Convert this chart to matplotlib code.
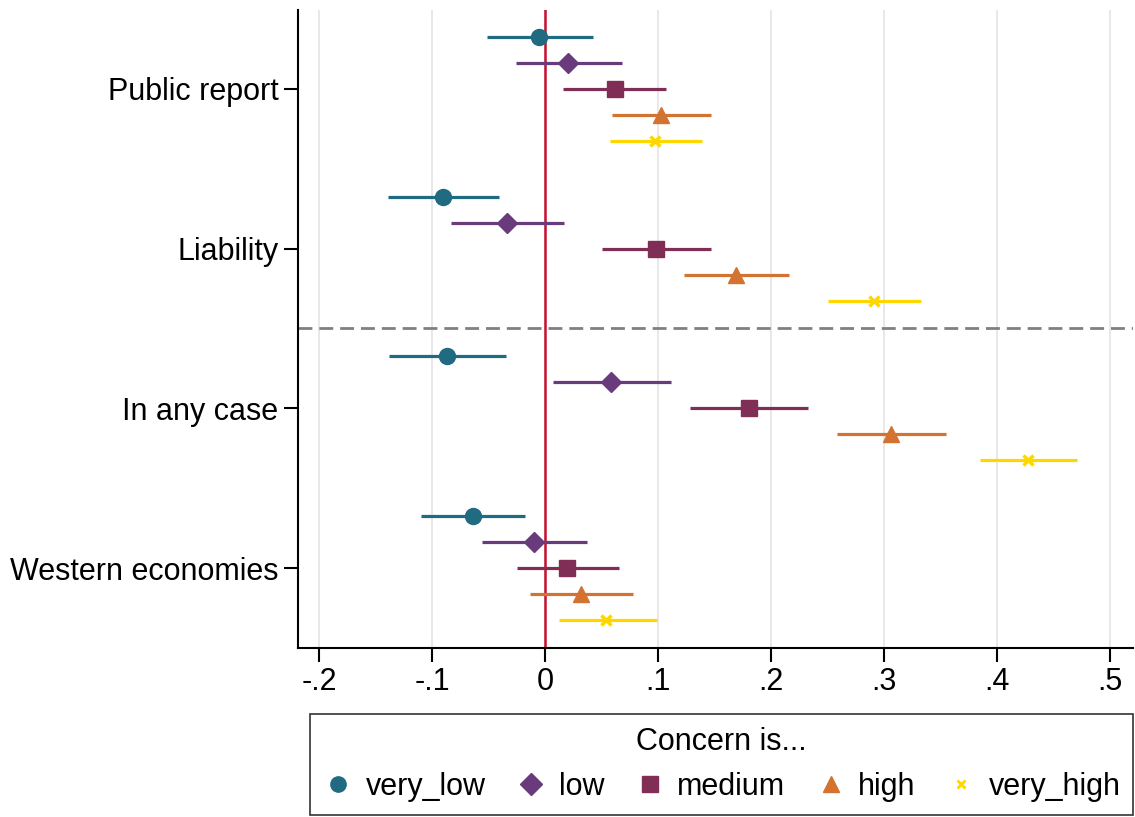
import numpy as np
import matplotlib
matplotlib.use("Agg")
import matplotlib.pyplot as plt
from matplotlib.lines import Line2D

plt.rcParams["font.family"] = ["Liberation Sans", "DejaVu Sans"]

# outcomes, top to bottom
groups = ["Public report", "Liability", "In any case", "Western economies"]
series = ["very_low", "low", "medium", "high", "very_high"]

# point estimates per series (one value per group)
est = {
    "very_low":  [-0.005, -0.090, -0.087, -0.064],
    "low":       [0.020, -0.034, 0.058, -0.010],
    "medium":    [0.062, 0.098, 0.180, 0.019],
    "high":      [0.103, 0.169, 0.306, 0.032],
    "very_high": [0.097, 0.291, 0.427, 0.054],
}
lo = {
    "very_low":  [-0.051, -0.139, -0.138, -0.110],
    "low":       [-0.026, -0.083, 0.007, -0.056],
    "medium":    [0.016, 0.050, 0.128, -0.025],
    "high":      [0.059, 0.123, 0.258, -0.013],
    "very_high": [0.057, 0.250, 0.385, 0.012],
}
hi = {
    "very_low":  [0.042, -0.041, -0.035, -0.018],
    "low":       [0.068, 0.017, 0.111, 0.037],
    "medium":    [0.107, 0.147, 0.233, 0.065],
    "high":      [0.147, 0.216, 0.355, 0.078],
    "very_high": [0.139, 0.333, 0.471, 0.099],
}

xticks = [-0.2, -0.1, 0, 0.1, 0.2, 0.3, 0.4, 0.5]
xticklabels = ["-.2", "-.1", "0", ".1", ".2", ".3", ".4", ".5"]

colors = ["#206b82", "#6a3b7c", "#812e57", "#d27332", "#ffd700"]
markers = ["o", "D", "s", "^", "x"]
msizes = [11.5, 10.5, 11, 12, 7]

fig = plt.figure(figsize=(11.35, 8.17), dpi=100)
ax = fig.add_axes([0.2626, 0.2069, 0.7354, 0.7809])

ypos = np.arange(len(groups))
step = 0.1625
for i, s in enumerate(series):
    y = ypos + (i - 2) * step
    e = np.array(est[s])
    ax.hlines(y, lo[s], hi[s], color=colors[i], lw=2.3, zorder=3)
    if markers[i] == "x":
        ax.plot(e, y, ls="none", marker="x", ms=msizes[i], mew=2.5,
                color=colors[i], zorder=4)
    else:
        ax.plot(e, y, ls="none", marker=markers[i], ms=msizes[i],
                color=colors[i], mec=colors[i], zorder=4)

ax.axvline(0, color="#c8102e", lw=1.8, zorder=2)
ax.axhline(1.5, color="#808080", lw=2, ls=(0, (5, 2.5)), zorder=2)

ax.set_xlim(-0.2186, 0.520)
ax.set_ylim(3.5, -0.494)
ax.set_xticks(xticks)
ax.set_xticklabels(xticklabels)
ax.set_yticks(ypos)
ax.set_yticklabels(groups)
ax.grid(axis="x", color="#e4e4e4", lw=1.2, zorder=0)
ax.set_axisbelow(True)
for side in ["top", "right"]:
    ax.spines[side].set_visible(False)
for side in ["left", "bottom"]:
    ax.spines[side].set_linewidth(1.5)
ax.tick_params(axis="both", labelsize=22, length=10, width=1.5, pad=4)

handles = []
for i, s in enumerate(series):
    if markers[i] == "x":
        h = Line2D([], [], ls="none", marker="x", ms=6, mew=2,
                   color=colors[i])
    else:
        h = Line2D([], [], ls="none", marker=markers[i], ms=11,
                   color=colors[i])
    handles.append(h)

leg = fig.legend(handles, series, loc="lower center", ncol=5,
                 bbox_to_anchor=(0.2731, 0.0025, 0.7255, 0.1225),
                 mode="expand", fontsize=22, title="Concern is...",
                 title_fontsize=22, frameon=True, fancybox=False,
                 handletextpad=0.4, borderaxespad=0, handlelength=1.0,
                 borderpad=0.42, labelspacing=0.5)
leg.get_frame().set_edgecolor("black")
leg.get_frame().set_linewidth(1.2)

fig.savefig("out.png", dpi=100)
